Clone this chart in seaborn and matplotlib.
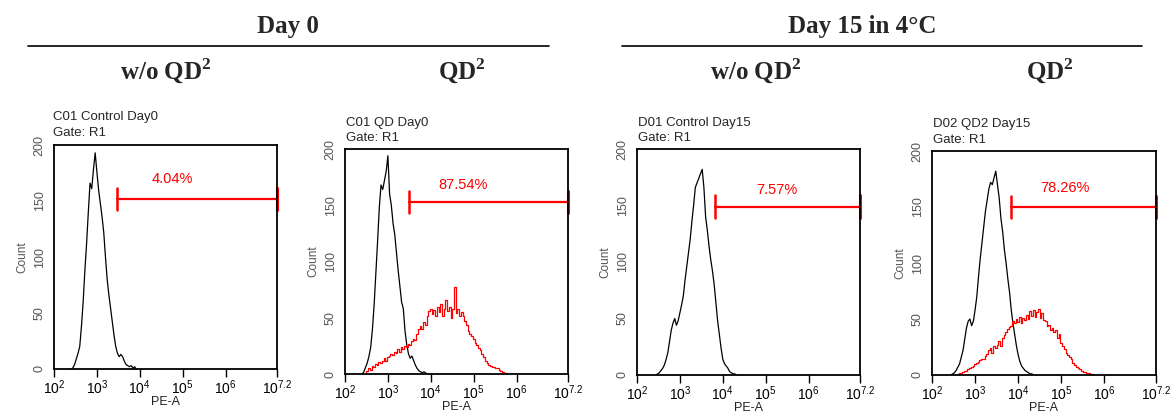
import numpy as np
import pandas as pd
import matplotlib
matplotlib.use("Agg")
import matplotlib.pyplot as plt
import seaborn as sns

# ---------------- data ----------------
panel_titles = ["C01 Control Day0", "C01 QD Day0", "D01 Control Day15", "D02 QD2 Day15"]
gate_text = "Gate: R1"
gate_pct = ["4.04%", "87.54%", "7.57%", "78.26%"]
gate_start_log = [3.46, 3.49, 3.82, 3.83]   # log10(PE-A) where marker starts
gate_level = [152, 153, 149, 150]           # Count level of marker
label_pos_log = [4.77, 4.75, 5.26, 5.09]
label_level = [170, 168, 164, 167]

bin_step = 0.04  # histogram bin width in decades

# black (control / unstained) histograms
black_start = [2.40, 2.40, 2.44, 2.44]
black_counts_1 = [0, 1, 4, 9, 14, 20, 38, 60, 88, 112, 140, 166, 161, 178, 193, 176, 160, 148,
                  136, 122, 100, 80, 66, 54, 42, 30, 20, 14, 11, 13, 11, 7, 4, 3, 2, 3, 1, 2, 0]
black_counts_2 = [0, 2, 6, 10, 16, 24, 40, 62, 90, 118, 148, 168, 164, 172, 180, 194, 160, 150,
                  134, 124, 108, 92, 78, 64, 58, 38, 26, 18, 14, 16, 12, 8, 5, 3, 2, 1, 2, 1, 0]
black_counts_3 = [0, 1, 2, 4, 6, 9, 14, 20, 30, 40, 46, 50, 44, 48, 55, 62, 70, 84, 96, 108,
                  120, 136, 150, 166, 170, 174, 178, 182, 166, 140, 128, 114, 102, 92, 80, 64,
                  48, 36, 24, 14, 10, 8, 6, 3, 2, 1, 1, 0]
black_counts_4 = [0, 1, 2, 4, 7, 10, 16, 22, 32, 42, 48, 50, 44, 48, 58, 70, 88, 104, 118, 132,
                  146, 156, 166, 172, 170, 176, 182, 170, 158, 140, 128, 112, 100, 86, 74, 58,
                  46, 36, 26, 18, 12, 8, 6, 4, 3, 2, 1, 1, 0]

# red (QD-stained) histograms
red_start = [None, 2.48, None, 2.56]
red_counts_2 = [0, 3, 5, 4, 7, 6, 9, 8, 11, 10, 12, 14, 12, 15, 16, 18, 17, 20, 19, 22, 20, 24,
                22, 25, 24, 27, 26, 29, 31, 30, 36, 40, 43, 40, 46, 44, 52, 56, 58, 53, 57, 52,
                60, 55, 62, 52, 58, 66, 56, 60, 50, 58, 77, 54, 58, 52, 55, 52, 47, 44, 38, 36,
                34, 31, 28, 26, 23, 21, 18, 15, 12, 10, 8, 7, 6, 6, 5, 5, 4, 3, 2, 1, 1, 0]
red_counts_4 = [0, 1, 2, 2, 3, 4, 4, 5, 6, 7, 8, 10, 11, 12, 13, 14, 14, 17, 19, 22, 24, 20, 26,
                24, 27, 30, 26, 33, 36, 38, 41, 43, 44, 48, 46, 50, 47, 52, 46, 51, 49, 54, 50,
                57, 53, 58, 52, 56, 59, 51, 55, 49, 48, 44, 45, 40, 42, 38, 40, 33, 37, 29, 26,
                23, 20, 18, 16, 14, 11, 9, 7, 6, 5, 4, 3, 3, 2, 2, 1, 1, 0]

black_series = [black_counts_1, black_counts_2, black_counts_3, black_counts_4]
red_series = [None, red_counts_2, None, red_counts_4]

x_tick_exp = [2, 3, 4, 5, 6, 7.2]
y_ticks = [0, 50, 100, 150, 200]

headers = ["Day 0", "Day 15 in 4°C"]
subheaders = ["w/o QD$^\\mathbf{2}$", "QD$^\\mathbf{2}$", "w/o QD$^\\mathbf{2}$", "QD$^\\mathbf{2}$"]

# ---------------- style ----------------
sns.set_style("white")
plt.rcParams["font.family"] = ["Liberation Sans", "DejaVu Sans"]
plt.rcParams["mathtext.fontset"] = "custom"
plt.rcParams["mathtext.rm"] = "Liberation Sans"
plt.rcParams["mathtext.bf"] = "Liberation Serif:bold"

W, H = 1171, 412
fig = plt.figure(figsize=(W / 100, H / 100), dpi=100)

def px(x, y):
    return x / W, 1 - y / H

# axes boxes in pixels: left, top, right, bottom
boxes = [(54, 145, 277, 369), (345, 149, 568, 374), (637, 149, 860, 375), (932, 151, 1156, 375)]
title_pos = [(53, 117, 133), (346, 123, 138), (638, 123, 138), (933, 124, 140)]

def hist_df(start, counts):
    logx = start + bin_step * np.arange(len(counts))
    return pd.DataFrame({"PE": 10 ** logx, "Count": counts})

for i, (l, t, r, b) in enumerate(boxes):
    ax = fig.add_axes([l / W, 1 - b / H, (r - l) / W, (b - t) / H])
    ax.set_xscale("log")
    dfb = hist_df(black_start[i], black_series[i])
    sns.lineplot(data=dfb, x="PE", y="Count", ax=ax, color="black", lw=0.9,
                 estimator=None)
    if red_series[i] is not None:
        dfr = hist_df(red_start[i], red_series[i])
        sns.lineplot(data=dfr, x="PE", y="Count", ax=ax, color="#ff0000", lw=0.9,
                     estimator=None, drawstyle="steps-mid")
    xmax = 10 ** 7.2
    ax.set_xlim(100, xmax)
    ax.set_ylim(0, 200)

    # gate marker
    gs = 10 ** gate_start_log[i]
    gl = gate_level[i]
    ax.plot([gs, xmax], [gl, gl], color="#ff0000", lw=1.6, clip_on=False)
    ax.plot([gs, gs], [gl - 10, gl + 10], color="#ff0000", lw=1.8, clip_on=False)
    ax.plot([xmax, xmax], [gl - 10, gl + 10], color="#ff0000", lw=2.2, clip_on=False)
    ax.text(10 ** label_pos_log[i], label_level[i], gate_pct[i], color="#ff0000",
            ha="center", va="center", fontsize=10.5)

    # axes styling
    for s in ax.spines.values():
        s.set_color("black")
        s.set_linewidth(1.3)
    ax.set_xticks([10 ** e for e in x_tick_exp])
    ax.set_xticklabels(["$10^{%s}$" % (int(e) if float(e).is_integer() else e) for e in x_tick_exp],
                       fontsize=10)
    ax.tick_params(axis="x", which="both", direction="out", length=6, width=1,
                   bottom=True, pad=1, colors="black")
    ax.tick_params(axis="x", which="minor", length=6, width=1)
    ax.set_yticks(y_ticks)
    ax.set_yticklabels([str(v) for v in y_ticks], rotation=90, va="center", fontsize=9,
                       color="#555555")
    ax.tick_params(axis="y", length=0, pad=6)
    ax.set_xlabel("PE-A", fontsize=9, labelpad=-1, color="#222222")
    ax.set_ylabel("Count", fontsize=8.5, labelpad=4, color="#555555")

    tx, ty1, ty2 = title_pos[i]
    fig.text(*px(tx, ty1), panel_titles[i], fontsize=9.5, ha="left", va="center")
    fig.text(*px(tx, ty2), gate_text, fontsize=9.5, ha="left", va="center")

# headers
serif = ["Liberation Serif", "DejaVu Serif"]
fig.text(*px(288, 33), headers[0], fontsize=18, fontweight="bold", family=serif,
         ha="center", va="baseline")
fig.text(*px(862, 33), headers[1], fontsize=18, fontweight="bold", family=serif,
         ha="center", va="baseline")
for x0, x1 in [(28, 549), (622, 1142)]:
    fig.add_artist(plt.Line2D([x0 / W, x1 / W], [1 - 46 / H, 1 - 46 / H], color="black", lw=1.2))
for x, s in zip([166, 462, 756, 1050], subheaders):
    fig.text(*px(x, 80), s, fontsize=18, fontweight="bold", family=serif,
             ha="center", va="baseline")

fig.savefig("out.png", dpi=100)
